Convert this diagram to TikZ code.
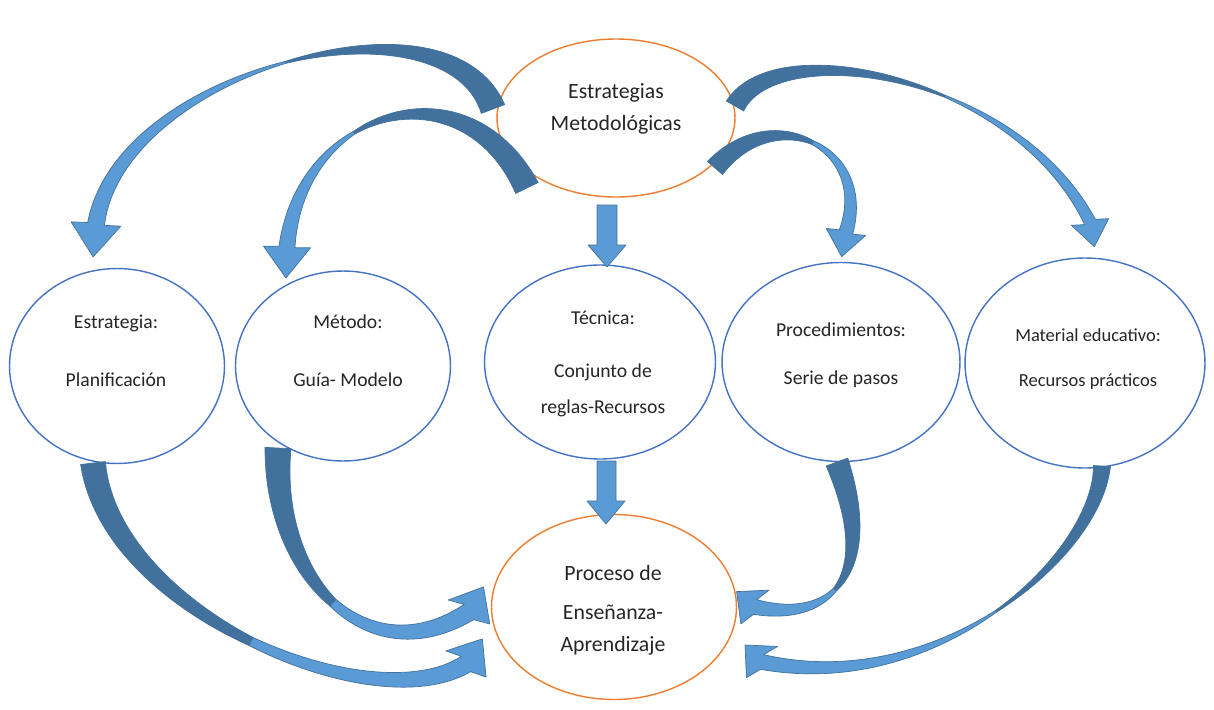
\documentclass[tikz,border=0pt]{standalone}
\usepackage{fontspec}
\setmainfont{Carlito}
\usepackage{tikz}
\usetikzlibrary{shapes.geometric}

\definecolor{ringblue}{HTML}{4472C4}
\definecolor{ringorange}{HTML}{ED7D31}
\definecolor{arrlight}{HTML}{5B9BD5}
\definecolor{arrdark}{HTML}{41719C}
\definecolor{ink}{HTML}{262626}

\tikzset{
  declare function={
    bzc(\q,\pa,\pb,\pc,\pd)=(1-\q)*(1-\q)*(1-\q)*\pa+3*(1-\q)*(1-\q)*\q*\pb+3*(1-\q)*\q*\q*\pc+\q*\q*\q*\pd;
    bzd(\q,\pa,\pb,\pc,\pd)=3*(1-\q)*(1-\q)*(\pb-\pa)+6*(1-\q)*\q*(\pc-\pb)+3*\q*\q*(\pd-\pc);
    bwid(\q)=(\q<\tm)*(\wm+(\wt-\wm)*(\tm-\q)/\tm)+(1-(\q<\tm))*(\wm+(\wh-\wm)*(\q-\tm)/(1-\tm));
    arrx(\q,\sd)=bzc(\q,\Ax,\Bx,\Cx,\Dx)-(2*\sd-1)*0.5*bwid(\q)*bzd(\q,\Ay,\By,\Cy,\Dy)/veclen(bzd(\q,\Ax,\Bx,\Cx,\Dx),bzd(\q,\Ay,\By,\Cy,\Dy));
    arry(\q,\sd)=bzc(\q,\Ay,\By,\Cy,\Dy)+(2*\sd-1)*0.5*bwid(\q)*bzd(\q,\Ax,\Bx,\Cx,\Dx)/veclen(bzd(\q,\Ax,\Bx,\Cx,\Dx),bzd(\q,\Ay,\By,\Cy,\Dy));
  },
  topic/.style={ellipse, draw=ringblue, line width=0.8pt, fill=white, inner sep=0pt},
  goal/.style={ellipse, draw=ringorange, line width=0.8pt, fill=white, inner sep=0pt},
  lbl/.style={align=center, text=ink, inner sep=0pt, font=\fontsize{11.2}{20.4}\selectfont},
  biglbl/.style={align=center, text=ink, inner sep=0pt, font=\fontsize{12.4}{18.1}\selectfont},
  backpart/.style={fill=arrdark, draw=arrdark, line width=0.4pt, line join=round},
  frontpart/.style={fill=arrlight, draw=arrdark, line width=0.4pt, line join=round},
}

\newcommand{\bentarrow}[9]{%
  \foreach \wt/\wm/\wh/\tm/\hs/\hl/\ha in {#9}{%
    \def\Ax{#1}\def\Ay{#2}\def\Bx{#3}\def\By{#4}%
    \def\Cx{#5}\def\Cy{#6}\def\Dx{#7}\def\Dy{#8}%
    \pgfmathsetmacro\tipx{\Dx+\hl*cos(\ha)}\pgfmathsetmacro\tipy{\Dy+\hl*sin(\ha)}%
    \pgfmathsetmacro\wax{\Dx-0.5*\hs*sin(\ha)}\pgfmathsetmacro\way{\Dy+0.5*\hs*cos(\ha)}%
    \pgfmathsetmacro\wbx{\Dx+0.5*\hs*sin(\ha)}\pgfmathsetmacro\wby{\Dy-0.5*\hs*cos(\ha)}%
    \filldraw[backpart] plot[domain=0:1, samples=30, variable=\r] ({arrx(\tm*\r,1)},{arry(\tm*\r,1)})
      -- plot[domain=0:1, samples=30, variable=\r] ({arrx(\tm*(1-\r),0)},{arry(\tm*(1-\r),0)}) -- cycle;
    \filldraw[frontpart] plot[domain=0:1, samples=30, variable=\r] ({arrx(\tm+(1-\tm)*\r,1)},{arry(\tm+(1-\tm)*\r,1)})
      -- (\wax,\way) -- (\tipx,\tipy) -- (\wbx,\wby)
      -- plot[domain=0:1, samples=30, variable=\r] ({arrx(1-(1-\tm)*\r,0)},{arry(1-(1-\tm)*\r,0)}) -- cycle;
  }}

\begin{document}
\begin{tikzpicture}[x=0.02cm, y=-0.02cm]
\useasboundingbox (0,0) rectangle (1214,710);
\fill[white] (0,0) rectangle (1214,710);

\node[goal, minimum width=47.6mm, minimum height=31.6mm] (strat) at (616,118) {};
\node[topic, minimum width=43mm, minimum height=39mm] (plan) at (117,366) {};
\node[topic, minimum width=43mm, minimum height=38mm] (meth) at (343,366) {};
\node[topic, minimum width=46.2mm, minimum height=38.8mm] (tech) at (600,362) {};
\node[topic, minimum width=47.6mm, minimum height=39.8mm] (proc) at (841,362) {};
\node[topic, minimum width=48mm, minimum height=42mm] (mat) at (1085,363) {};
\node[goal, minimum width=49mm, minimum height=37mm] (learn) at (614,607) {};

\bentarrow{493}{109}{446}{-15}{120}{70}{96}{224}{25/2/17/0.5/50/33/95}
\bentarrow{527}{188}{465}{62}{301}{107}{287}{247}{25/3/16/0.62/47/31/92}
\bentarrow{735}{106}{777}{32}{1016}{75}{1090}{222}{20/2/12/0.6/38/25/80}
\bentarrow{715}{168}{774}{100}{873}{147}{846}{232}{20/4/14/0.5/40/25/100}

\filldraw[frontpart] (597,205) -- (617,205) -- (617,245) -- (626,245) -- (607,267) -- (588,245) -- (597,245) -- cycle;
\filldraw[frontpart] (597,461) -- (616,461) -- (616,501) -- (625,501) -- (606,524) -- (587,501) -- (597,501) -- cycle;

\bentarrow{93}{463}{111}{613}{372}{722}{466}{664}{25/9/18/0.5/48/30/-57}
\bentarrow{278}{448}{272}{578}{367}{676}{469}{612}{26/9/18/0.5/48/29/-60}
\bentarrow{837}{462}{879}{575}{831}{623}{755}{607}{23/4/15/0.55/44/24/-140}
\bentarrow{1102}{466}{1097}{556}{938}{698}{762}{662}{17/2/15/0.5/44/24/-135}

\node[biglbl] (strat-txt) at (616,109) {Estrategias\\Metodológicas};
\node[lbl] (plan-txt) at (116,351) {Estrategia:\\[12.5pt]Planificación};
\node[lbl] (meth-txt) at (348,351) {Método:\\[12.5pt]Guía- Modelo};
\node[lbl] (tech-txt) at (603,364) {Técnica:\\[9.6pt]Conjunto de\\reglas-Recursos};
\node[lbl] (proc-txt) at (841,355) {Procedimientos:\\[6.8pt]Serie de pasos};
\node[lbl, font=\fontsize{10.5}{20.4}\selectfont] (mat-txt) at (1088,359) {Material educativo:\\[5.1pt]Recursos prácticos};
\node[biglbl] (learn-txt) at (613,610) {Proceso de\\[4pt]Enseñanza-\\Aprendizaje};
\end{tikzpicture}
\end{document}
